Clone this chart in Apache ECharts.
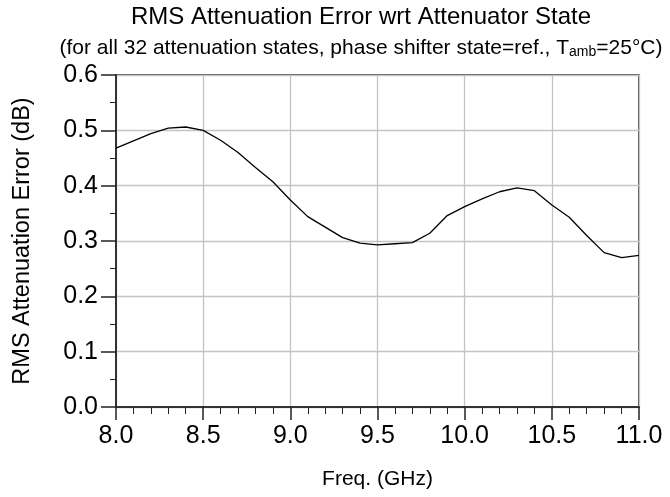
<!DOCTYPE html>
<html>
<head>
<meta charset="utf-8">
<script src="https://cdn.jsdelivr.net/npm/echarts@6/dist/echarts.min.js"></script>
<style>html,body{margin:0;padding:0;background:#fff}#c{width:670px;height:497px}</style>
</head>
<body>
<div id="c"></div>
<script>
const freqs = [8.0,8.1,8.2,8.3,8.4,8.5,8.6,8.7,8.8,8.9,9.0,9.1,9.2,9.3,9.4,9.5,9.6,9.7,9.8,9.9,10.0,10.1,10.2,10.3,10.4,10.5,10.6,10.7,10.8,10.9,11.0];
const rmsError = [0.468,0.481,0.494,0.504,0.506,0.500,0.482,0.460,0.433,0.407,0.374,0.344,0.325,0.306,0.296,0.293,0.295,0.297,0.314,0.346,0.362,0.376,0.389,0.396,0.391,0.365,0.343,0.310,0.279,0.270,0.274];
const xTicks = [8.0,8.5,9.0,9.5,10.0,10.5,11.0];
const yTicks = [0.0,0.1,0.2,0.3,0.4,0.5,0.6];

const font = '"Liberation Sans", Arial, sans-serif';
const chart = echarts.init(document.getElementById('c'));
chart.setOption({
  animation: false,
  graphic: [
    {type: 'text', x: 361, y: 17, z: 10,
     style: {text: 'RMS Attenuation Error wrt Attenuator State', fontFamily: font, fontSize: 24,
             fill: '#000', align: 'center', verticalAlign: 'middle'}},
    {type: 'text', x: 361, y: 48, z: 10,
     style: {text: '(for all 32 attenuation states, phase shifter state=ref., T{s|amb}=25°C)', fontFamily: font, fontSize: 21,
             fill: '#000', align: 'center', verticalAlign: 'middle',
             rich: {s: {fontFamily: font, fontSize: 14, fill: '#000', padding: [8,0,0,0]}}}}
  ],
  grid: {left: 116, top: 75, right: 31, bottom: 90, show: true, borderColor: '#222', borderWidth: 1.5, backgroundColor: '#fff'},
  xAxis: {
    type: 'value', min: xTicks[0], max: xTicks[xTicks.length-1], interval: 0.5,
    name: 'Freq. (GHz)', nameLocation: 'middle', nameGap: 62,
    nameTextStyle: {fontFamily: font, fontSize: 21, color: '#000'},
    axisLine: {show: true, lineStyle: {color: '#333', width: 2}},
    axisTick: {show: true, inside: false, length: 13, lineStyle: {color: '#222', width: 1.5}},
    minorTick: {show: true, splitNumber: 5, length: 7, lineStyle: {color: '#222', width: 1}},
    axisLabel: {margin: 17, fontFamily: font, fontSize: 25, color: '#000', formatter: v => v.toFixed(1)},
    splitLine: {show: true, lineStyle: {color: '#c4c4c4', width: 1.3}}
  },
  yAxis: {
    type: 'value', min: yTicks[0], max: yTicks[yTicks.length-1], interval: 0.1,
    name: 'RMS Attenuation Error (dB)', nameLocation: 'middle', nameGap: 81,
    nameTextStyle: {fontFamily: font, fontSize: 23.5, color: '#000'},
    axisLine: {show: true, lineStyle: {color: '#333', width: 2}},
    axisTick: {show: true, inside: false, length: 15, lineStyle: {color: '#222', width: 1.5}},
    minorTick: {show: true, splitNumber: 2, length: 6, lineStyle: {color: '#222', width: 1}},
    axisLabel: {margin: 18, fontFamily: font, fontSize: 25, color: '#000', formatter: v => v.toFixed(1)},
    splitLine: {show: true, lineStyle: {color: '#c4c4c4', width: 1.3}}
  },
  series: [{
    type: 'line', data: freqs.map((f,i) => [f, rmsError[i]]),
    symbol: 'none', lineStyle: {color: '#000', width: 1.3}, z: 5
  }]
});
</script>
</body>
</html>
